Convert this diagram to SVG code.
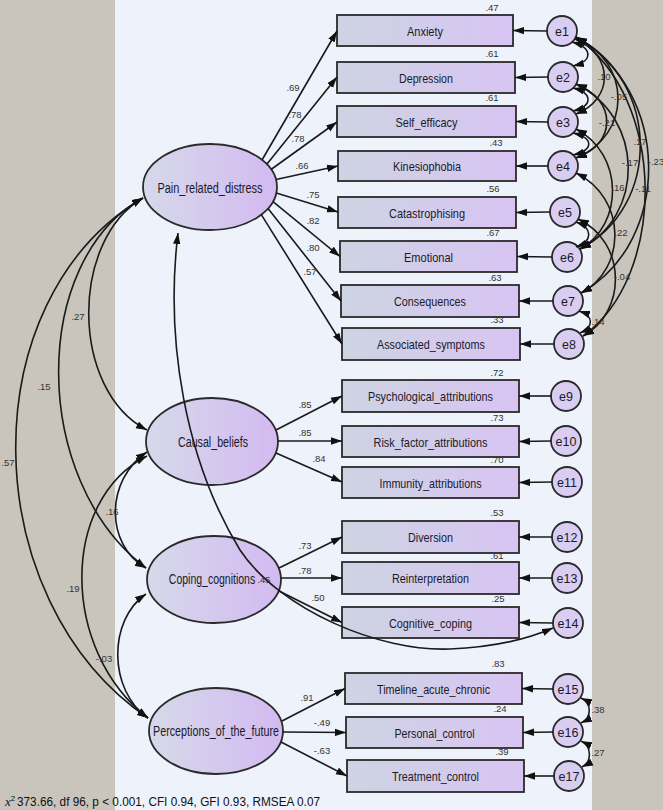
<svg xmlns="http://www.w3.org/2000/svg" width="663" height="810" viewBox="0 0 663 810">
<style>
.bg{fill:#c9c5bc}
.panel{fill:#eef2fa}
.box{fill:url(#gbox);stroke:#2a2a2a;stroke-width:1.8}
.lat{fill:url(#glat);stroke:#2a2a2a;stroke-width:1.8}
.err{fill:#d9cdf2;stroke:#2a2a2a;stroke-width:1.8}
.t{font-family:"Liberation Sans",Arial,sans-serif;font-size:13.5px;fill:#1a1a2a;text-anchor:middle}
.tl{font-family:"Liberation Sans",Arial,sans-serif;font-size:14px;fill:#1a1a2a;text-anchor:middle}
.te{font-family:"Liberation Sans",Arial,sans-serif;font-size:12.5px;fill:#1a1a2a;text-anchor:middle}
.n{font-family:"Liberation Sans",Arial,sans-serif;font-size:9.5px;fill:#333;text-anchor:middle}
.c{fill:none;stroke:#1a1a1a;stroke-width:1.6}
.a{marker-end:url(#ah)}
.b{marker-start:url(#ah);marker-end:url(#ah)}
.foot{font-family:"Liberation Sans",Arial,sans-serif;font-size:12.5px;fill:#111}
</style>
<defs>
<linearGradient id="gbox" x1="0" y1="0" x2="1" y2="0">
<stop offset="0" stop-color="#cdd4e2"/>
<stop offset="1" stop-color="#d8c4f3"/>
</linearGradient>
<linearGradient id="glat" x1="0" y1="0" x2="1" y2="0">
<stop offset="0" stop-color="#d6d9ea"/>
<stop offset="1" stop-color="#d3baf1"/>
</linearGradient>
<marker id="ah" viewBox="0 0 11 8" refX="11" refY="4" markerWidth="11" markerHeight="8" markerUnits="userSpaceOnUse" orient="auto-start-reverse">
<path d="M0,0.3 L11,4 L0,7.7 z" fill="#111"/>
</marker>
</defs>
<rect class="bg" x="0" y="0" width="663" height="810"/>
<rect class="panel" x="115" y="0" width="477" height="810"/>

<g id="Pain_related_distress"><ellipse class="lat" cx="210" cy="187" rx="67" ry="43"/><text class="tl" x="210" y="193" textLength="105" lengthAdjust="spacingAndGlyphs">Pain_related_distress</text></g>
<g id="Causal_beliefs"><ellipse class="lat" cx="212" cy="441.5" rx="66" ry="43.5"/><text class="tl" x="213" y="447" textLength="70" lengthAdjust="spacingAndGlyphs">Causal_beliefs</text></g>
<g id="Coping_cognitions"><ellipse class="lat" cx="214" cy="579.5" rx="67" ry="43.5"/><text class="tl" transform="translate(212,584) scale(0.75,1)" x="0" y="0">Coping_cognitions</text></g>
<g id="Perceptions_of_the_future"><ellipse class="lat" cx="216" cy="731" rx="67" ry="43"/><text class="tl" x="216" y="736" textLength="126" lengthAdjust="spacingAndGlyphs">Perceptions_of_the_future</text></g>

<g id="Anxiety"><rect class="box" x="337" y="15" width="176" height="31"/><text class="t" x="425" y="35.5" textLength="36" lengthAdjust="spacingAndGlyphs">Anxiety</text><text class="n" x="492" y="11">.47</text></g>
<g id="Depression"><rect class="box" x="337" y="62" width="178" height="31"/><text class="t" x="426" y="82.5" textLength="54" lengthAdjust="spacingAndGlyphs">Depression</text><text class="n" x="492" y="57">.61</text></g>
<g id="Self_efficacy"><rect class="box" x="337" y="106" width="179" height="31"/><text class="t" x="426.5" y="126.5" textLength="62" lengthAdjust="spacingAndGlyphs">Self_efficacy</text><text class="n" x="492" y="101">.61</text></g>
<g id="Kinesiophobia"><rect class="box" x="338" y="151" width="178" height="30"/><text class="t" x="427" y="171" textLength="68" lengthAdjust="spacingAndGlyphs">Kinesiophobia</text><text class="n" x="496" y="146">.43</text></g>
<g id="Catastrophising"><rect class="box" x="338" y="197" width="178" height="31"/><text class="t" x="427" y="217.5" textLength="76" lengthAdjust="spacingAndGlyphs">Catastrophising</text><text class="n" x="493" y="192">.56</text></g>
<g id="Emotional"><rect class="box" x="340" y="241" width="177" height="31"/><text class="t" x="428.5" y="261.5" textLength="49" lengthAdjust="spacingAndGlyphs">Emotional</text><text class="n" x="493" y="236">.67</text></g>
<g id="Consequences"><rect class="box" x="341" y="285" width="178" height="32"/><text class="t" x="430" y="306" textLength="72" lengthAdjust="spacingAndGlyphs">Consequences</text><text class="n" x="495" y="281">.63</text></g>
<g id="Associated_symptoms"><rect class="box" x="342" y="328" width="178" height="32"/><text class="t" x="431" y="349" textLength="108" lengthAdjust="spacingAndGlyphs">Associated_symptoms</text><text class="n" x="497" y="323">.33</text></g>
<g id="Psychological_attributions"><rect class="box" x="342" y="380" width="177" height="32"/><text class="t" x="430.5" y="401" textLength="125" lengthAdjust="spacingAndGlyphs">Psychological_attributions</text><text class="n" x="497" y="376">.72</text></g>
<g id="Risk_factor_attributions"><rect class="box" x="342" y="426" width="177" height="31"/><text class="t" x="430.5" y="446.5" textLength="114" lengthAdjust="spacingAndGlyphs">Risk_factor_attributions</text><text class="n" x="497" y="421">.73</text></g>
<g id="Immunity_attributions"><rect class="box" x="342" y="467" width="177" height="31"/><text class="t" x="430.5" y="487.5" textLength="102" lengthAdjust="spacingAndGlyphs">Immunity_attributions</text><text class="n" x="497" y="463">.70</text></g>
<g id="Diversion"><rect class="box" x="342" y="521" width="177" height="32"/><text class="t" x="430.5" y="542" textLength="45" lengthAdjust="spacingAndGlyphs">Diversion</text><text class="n" x="497" y="516">.53</text></g>
<g id="Reinterpretation"><rect class="box" x="342" y="562" width="177" height="32"/><text class="t" x="430.5" y="583" textLength="77" lengthAdjust="spacingAndGlyphs">Reinterpretation</text><text class="n" x="497" y="559">.61</text></g>
<g id="Cognitive_coping"><rect class="box" x="342" y="607" width="177" height="31"/><text class="t" x="430.5" y="627.5" textLength="83" lengthAdjust="spacingAndGlyphs">Cognitive_coping</text><text class="n" x="498" y="602">.25</text></g>
<g id="Timeline_acute_chronic"><rect class="box" x="345" y="673" width="177" height="31"/><text class="t" x="433.5" y="693.5" textLength="113" lengthAdjust="spacingAndGlyphs">Timeline_acute_chronic</text><text class="n" x="498" y="667">.83</text></g>
<g id="Personal_control"><rect class="box" x="346" y="717" width="177" height="31"/><text class="t" x="434.5" y="737.5" textLength="80" lengthAdjust="spacingAndGlyphs">Personal_control</text><text class="n" x="500" y="712">.24</text></g>
<g id="Treatment_control"><rect class="box" x="347" y="760" width="177" height="32"/><text class="t" x="435.5" y="781" textLength="87" lengthAdjust="spacingAndGlyphs">Treatment_control</text><text class="n" x="502" y="755">.39</text></g>

<g id="e1"><circle class="err" cx="562" cy="31" r="15"/><text class="te" x="562" y="35.5">e1</text></g>
<g id="e2"><circle class="err" cx="563" cy="77" r="15"/><text class="te" x="563" y="81.5">e2</text></g>
<g id="e3"><circle class="err" cx="563" cy="122" r="15"/><text class="te" x="563" y="126.5">e3</text></g>
<g id="e4"><circle class="err" cx="563" cy="166" r="15"/><text class="te" x="563" y="170.5">e4</text></g>
<g id="e5"><circle class="err" cx="565" cy="212" r="15"/><text class="te" x="565" y="216.5">e5</text></g>
<g id="e6"><circle class="err" cx="567" cy="257" r="15"/><text class="te" x="567" y="261.5">e6</text></g>
<g id="e7"><circle class="err" cx="568" cy="301" r="15"/><text class="te" x="568" y="305.5">e7</text></g>
<g id="e8"><circle class="err" cx="569" cy="344" r="15"/><text class="te" x="569" y="348.5">e8</text></g>
<g id="e9"><circle class="err" cx="566" cy="396" r="15"/><text class="te" x="566" y="400.5">e9</text></g>
<g id="e10"><circle class="err" cx="566" cy="441" r="15"/><text class="te" x="566" y="445.5">e10</text></g>
<g id="e11"><circle class="err" cx="567" cy="482" r="15"/><text class="te" x="567" y="486.5">e11</text></g>
<g id="e12"><circle class="err" cx="567" cy="537" r="15"/><text class="te" x="567" y="541.5">e12</text></g>
<g id="e13"><circle class="err" cx="567" cy="578" r="15"/><text class="te" x="567" y="582.5">e13</text></g>
<g id="e14"><circle class="err" cx="568" cy="623" r="15"/><text class="te" x="568" y="627.5">e14</text></g>
<g id="e15"><circle class="err" cx="568" cy="689" r="15"/><text class="te" x="568" y="693.5">e15</text></g>
<g id="e16"><circle class="err" cx="568" cy="732" r="15"/><text class="te" x="568" y="736.5">e16</text></g>
<g id="e17"><circle class="err" cx="569" cy="776" r="15"/><text class="te" x="569" y="780.5">e17</text></g>

<g id="connectors">
<path class="c a" d="M262,160 L337,31"/>
<path class="c a" d="M267,164 L337,77"/>
<path class="c a" d="M271,169.5 L337,122"/>
<path class="c a" d="M276,179.5 L338,166"/>
<path class="c a" d="M276.3,193 L338,212"/>
<path class="c a" d="M273,201.7 L340,256.5"/>
<path class="c a" d="M268,208.5 L341,301"/>
<path class="c a" d="M261.3,214.6 L342,344"/>
<path class="c a" d="M276,430 L342,396"/>
<path class="c a" d="M278,441 L342,441"/>
<path class="c a" d="M276,453 L342,482"/>
<path class="c a" d="M279,568 L342,537"/>
<path class="c a" d="M281,578 L342,578"/>
<path class="c a" d="M279,591 L342,622.5"/>
<path class="c a" d="M282,721 L345,688.5"/>
<path class="c a" d="M283,732 L346,732.5"/>
<path class="c a" d="M281,742 L347,776"/>
<path class="c a" d="M547,31 L513,30.5"/>
<path class="c a" d="M548,77 L515,77.5"/>
<path class="c a" d="M548,122 L516,121.5"/>
<path class="c a" d="M548,166 L516,166"/>
<path class="c a" d="M550,212 L516,212.5"/>
<path class="c a" d="M552,257 L517,256.5"/>
<path class="c a" d="M553,301 L519,301"/>
<path class="c a" d="M554,344 L520,344"/>
<path class="c a" d="M551,396 L519,396"/>
<path class="c a" d="M551,441 L519,441.5"/>
<path class="c a" d="M552,482 L519,482.5"/>
<path class="c a" d="M552,537 L519,537"/>
<path class="c a" d="M552,578 L519,578"/>
<path class="c a" d="M553,623 L519,622.5"/>
<path class="c a" d="M553,689 L522,688.5"/>
<path class="c a" d="M553,732 L523,732.5"/>
<path class="c a" d="M554,776 L524,776"/>
<path class="c b" d="M572,42 C593,48 593,61 573,66"/>
<path class="c b" d="M573,88 C593,93 593,106 573,111"/>
<path class="c b" d="M573,133 C594,138 594,150 573,155"/>
<path class="c b" d="M575,39 C614,55 614,99 576,114"/>
<path class="c b" d="M576,38 C632,62 632,135 576,158"/>
<path class="c b" d="M576,84 C617,100 617,144 576,158"/>
<path class="c b" d="M576,37 C661,82 661,207 580,249"/>
<path class="c b" d="M576,37 C672,91 672,242 581,293"/>
<path class="c b" d="M576,84 C645,118 645,216 580,249"/>
<path class="c b" d="M576,37 C667,99 667,276 583,336"/>
<path class="c b" d="M576,129 C624,154 624,225 580,249"/>
<path class="c b" d="M576,173 C627,198 627,269 581,293"/>
<path class="c b" d="M576,222 C593,228 593,241 576,247"/>
<path class="c b" d="M578,219 C627,242 627,312 583,336"/>
<path class="c b" d="M579,311 C594,316 594,327 580,333"/>
<path class="c b" d="M581,698 C592,703 592,718 581,723"/>
<path class="c b" d="M581,741 C592,746 592,762 582,767"/>
<path class="c b" d="M143,198 C70,240 70,390 147,430"/>
<path class="c b" d="M143,198 C30,260 30,480 146,568"/>
<path class="c b" d="M143,198 C-30,300 -25,600 148,718"/>
<path class="c b" d="M147,452 C105,480 105,545 146,568"/>
<path class="c b" d="M147,456 C60,500 60,650 148,718"/>
<path class="c b" d="M146,594 C108,620 108,690 148,718"/>
<path class="c b" d="M178,233 C165,340 185,460 240,550 C280,610 380,652 450,649 C500,647 530,638 553,628"/>
<g class="n">
<text x="293" y="91">.69</text><text x="295" y="118">.78</text><text x="298" y="142">.78</text><text x="302" y="169">.66</text>
<text x="313" y="198">.75</text><text x="313" y="224">.82</text><text x="313" y="251">.80</text><text x="310" y="275">.57</text>
<text x="305" y="408">.85</text><text x="305" y="436">.85</text><text x="319" y="462">.84</text>
<text x="305" y="549">.73</text><text x="305" y="574">.78</text><text x="318" y="601">.50</text>
<text x="307" y="701">.91</text><text x="322" y="726">-.49</text><text x="322" y="754">-.63</text>
<text x="78" y="320">.27</text><text x="44" y="390">.15</text><text x="8" y="466">.57</text>
<text x="112" y="515">.16</text><text x="73" y="592">.19</text><text x="104" y="662">-.03</text>
<text x="264" y="583">.45</text>
<text x="604" y="80">.10</text><text x="619" y="100">-.05</text><text x="607" y="126">-.21</text><text x="640" y="145">.17</text>
<text x="656" y="165">-.23</text><text x="630" y="166">-.17</text><text x="618" y="191">.16</text><text x="643" y="192">-.11</text>
<text x="621" y="236">.22</text><text x="622" y="280">-.04</text><text x="598" y="325">.14</text>
<text x="598" y="713">.38</text><text x="598" y="756">.27</text>
</g>
</g>
<text class="foot" x="5" y="806"><tspan font-family="Liberation Serif,serif" font-style="italic" font-size="13">x</tspan><tspan font-size="8" dy="-5">2</tspan><tspan dy="5" x="17" textLength="303" lengthAdjust="spacingAndGlyphs">373.66, df 96, p &lt; 0.001, CFI 0.94, GFI 0.93, RMSEA 0.07</tspan></text>
</svg>
